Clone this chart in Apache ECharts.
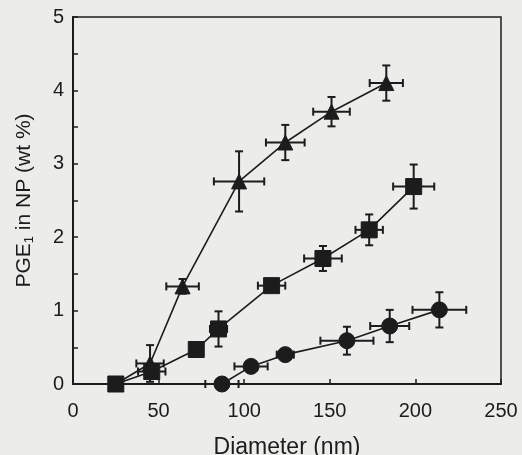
<!DOCTYPE html>
<html>
<head>
<meta charset="UTF-8">
<script src="https://cdn.jsdelivr.net/npm/echarts@6/dist/echarts.min.js"></script>
<style>
    html, body { margin: 0; padding: 0; background: #ececea; }
    #pge { width: 522px; height: 455px; }
</style>
</head>
<body>
<div id="pge"></div>
<script>
    /* 数据：三组粒径 vs 载药量 */
    var triX = [25, 45, 64, 97, 124, 151, 183];
    var triY = [0, 0.28, 1.33, 2.76, 3.29, 3.71, 4.10];
    var triXErr = [0, 8, 9.5, 14.7, 11.3, 10.7, 9.7];
    var triYErr = [0, 0.25, 0.1, 0.41, 0.24, 0.2, 0.24];

    var sqX = [25, 46, 72, 85, 116, 146, 173, 199];
    var sqY = [0, 0.17, 0.47, 0.75, 1.34, 1.71, 2.10, 2.69];
    var sqXErr = [0, 8, 0, 5, 8, 11, 8, 12];
    var sqYErr = [0, 0.1, 0, 0.24, 0.05, 0.17, 0.21, 0.3];

    var cirX = [87, 104, 124, 160, 185, 214];
    var cirY = [0, 0.24, 0.40, 0.59, 0.79, 1.01];
    var cirXErr = [9.7, 9.7, 5, 15.5, 11.4, 15.7];
    var cirYErr = [0, 0.05, 0.04, 0.19, 0.22, 0.24];

    var xTicks = [0, 50, 100, 150, 200, 250];
    var yTicks = [0, 1, 2, 3, 4, 5];

    var ink = '#1c1c1c';
    var font = 'Liberation Sans, Arial, sans-serif';

    function pairs(xs, ys) {
        return xs.map(function (x, i) { return [x, ys[i]]; });
    }

    function errData(xs, ys, xe, ye) {
        return xs.map(function (x, i) { return [x, ys[i], xe[i], ye[i]]; });
    }

    /*误差棒*/
    function renderErr(params, api) {
        var x = api.value(0), y = api.value(1), xe = api.value(2), ye = api.value(3);
        var cap = 4;
        var kids = [];
        var style = { stroke: ink, lineWidth: 2, fill: null };
        if (xe > 0) {
            var l = api.coord([x - xe, y]), r = api.coord([x + xe, y]);
            kids.push({ type: 'line', shape: { x1: l[0], y1: l[1], x2: r[0], y2: r[1] }, style: style });
            kids.push({ type: 'line', shape: { x1: l[0], y1: l[1] - cap, x2: l[0], y2: l[1] + cap }, style: style });
            kids.push({ type: 'line', shape: { x1: r[0], y1: r[1] - cap, x2: r[0], y2: r[1] + cap }, style: style });
        }
        if (ye > 0) {
            var t = api.coord([x, y + ye]), b = api.coord([x, y - ye]);
            kids.push({ type: 'line', shape: { x1: t[0], y1: t[1], x2: b[0], y2: b[1] }, style: style });
            kids.push({ type: 'line', shape: { x1: t[0] - cap, y1: t[1], x2: t[0] + cap, y2: t[1] }, style: style });
            kids.push({ type: 'line', shape: { x1: b[0] - cap, y1: b[1], x2: b[0] + cap, y2: b[1] }, style: style });
        }
        return { type: 'group', children: kids };
    }

    function lineSeries(name, symbol, size, xs, ys) {
        return {
            name: name,
            type: 'line',
            data: pairs(xs, ys),
            symbol: symbol,
            symbolSize: size,
            showAllSymbol: true,
            lineStyle: { color: ink, width: 1.6 },
            itemStyle: { color: ink, borderColor: ink },
            z: 3,
            animation: false
        };
    }

    function errSeries(xs, ys, xe, ye) {
        return {
            type: 'custom',
            renderItem: renderErr,
            data: errData(xs, ys, xe, ye),
            encode: { x: 0, y: 1 },
            clip: false,
            z: 4,
            animation: false
        };
    }

    var chart = echarts.init(document.getElementById('pge'));
    var option = {
        backgroundColor: '#ececea',
        textStyle: { fontFamily: font },
        grid: {
            left: 73, right: 21, top: 17, bottom: 71,
            outerBoundsMode: 'none',
            containLabel: false,
            show: true, borderColor: ink, borderWidth: 1.5, backgroundColor: 'transparent'
        },
        xAxis: {
            type: 'value',
            min: xTicks[0], max: xTicks[xTicks.length - 1], interval: 50,
            name: 'Diameter (nm)',
            nameLocation: 'middle',
            nameGap: 52,
            nameTextStyle: { fontSize: 23, color: ink, fontFamily: font },
            axisLine: { lineStyle: { color: ink, width: 2 } },
            axisTick: { inside: true, length: 5, lineStyle: { color: ink, width: 1.5 } },
            axisLabel: { fontSize: 20, color: ink, margin: 17, fontFamily: font },
            splitLine: { show: false }
        },
        yAxis: {
            type: 'value',
            min: yTicks[0], max: yTicks[yTicks.length - 1], interval: 0.5,
            name: '{a|PGE}{s|1}{a| in NP (wt %)}',
            nameLocation: 'middle',
            nameGap: 37,
            nameTextStyle: {
                rich: {
                    a: { fontSize: 21, color: ink, fontFamily: font },
                    s: { fontSize: 13, color: ink, padding: [11, 0, 0, 0], fontFamily: font }
                }
            },
            axisLine: { lineStyle: { color: ink, width: 2 } },
            axisTick: { inside: true, length: 5, lineStyle: { color: ink, width: 1.5 } },
            axisLabel: {
                fontSize: 20, color: ink, margin: 9, fontFamily: font,
                formatter: function (v) { return yTicks.indexOf(v) >= 0 ? String(v) : ''; }
            },
            splitLine: { show: false }
        },
        series: [
            lineSeries('tri', 'triangle', 15, triX, triY),
            lineSeries('sq', 'rect', 16, sqX, sqY),
            lineSeries('cir', 'circle', 16, cirX, cirY),
            errSeries(triX, triY, triXErr, triYErr),
            errSeries(sqX, sqY, sqXErr, sqYErr),
            errSeries(cirX, cirY, cirXErr, cirYErr)
        ]
    };
    chart.setOption(option);

    window.addEventListener('resize', function () {
        chart.resize();
    });
</script>
</body>
</html>
